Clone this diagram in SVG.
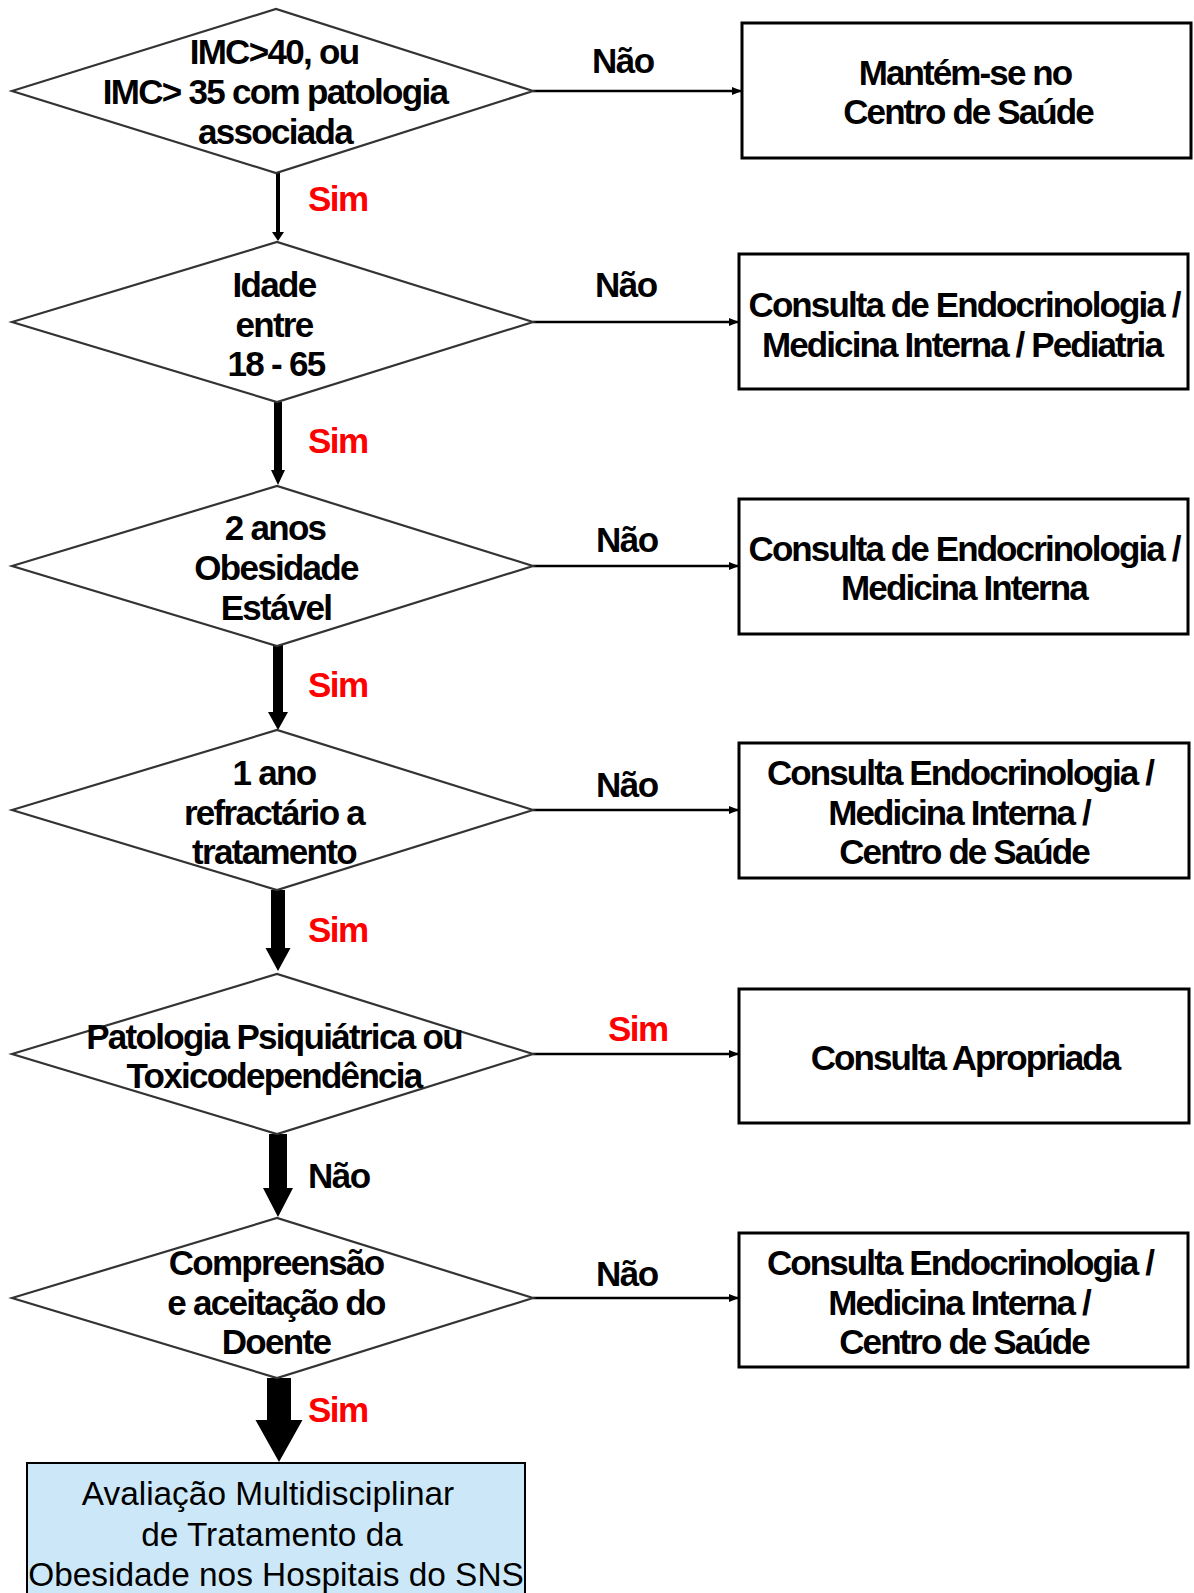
<svg xmlns="http://www.w3.org/2000/svg" width="1194" height="1593" viewBox="0 0 1194 1593">
<defs>
<style>
.dia{fill:#fff;stroke:#333;stroke-width:2.2}
.box{fill:#fff;stroke:#000;stroke-width:3}
.t{font-family:"Liberation Sans",Arial,sans-serif;font-weight:bold;font-size:35px;letter-spacing:-1.7px;fill:#000;text-anchor:middle}
.bt{letter-spacing:-1.9px}
.lbl{font-family:"Liberation Sans",Arial,sans-serif;font-weight:bold;font-size:35px;letter-spacing:-1.5px}
.no{fill:#000}
.yes{fill:#ff0000}
.h{stroke:#000;stroke-width:2.5;fill:none;marker-end:url(#ah)}
.v{fill:#000}
.fin{fill:#cce8f8;stroke:#000;stroke-width:2}
.ft{font-family:"Liberation Sans",Arial,sans-serif;font-size:33.4px;fill:#000;text-anchor:middle}
</style>
<marker id="ah" markerWidth="10" markerHeight="8" refX="10" refY="4" orient="auto" markerUnits="userSpaceOnUse">
<path d="M0,0 L10,4 L0,8 z" fill="#000"/>
</marker>
</defs>
<rect width="1194" height="1593" fill="#fff"/>

<g id="connectors">
<line class="h" x1="533" y1="91" x2="742" y2="91"/>
<line class="h" x1="533" y1="322" x2="739" y2="322"/>
<line class="h" x1="533" y1="566" x2="739" y2="566"/>
<line class="h" x1="533" y1="810" x2="739" y2="810"/>
<line class="h" x1="533" y1="1054" x2="739" y2="1054"/>
<line class="h" x1="533" y1="1298" x2="739" y2="1298"/>
<polygon class="v" points="276,172 280,172 280,232 284,232 278,241 272,232 276,232"/>
<polygon class="v" points="274,402 282,402 282,470 285,470 278,485 271,470 274,470"/>
<polygon class="v" points="273,645 283,645 283,712 288,712 278,730 268,712 273,712"/>
<polygon class="v" points="271,890 285,890 285,948 290.5,948 278,971 265.5,948 271,948"/>
<polygon class="v" points="269,1134 287,1134 287,1188 293,1188 278,1217 263,1188 269,1188"/>
<polygon class="v" points="267,1378 291,1378 291,1420 302.5,1420 279,1462 255.5,1420 267,1420"/>
<text class="lbl yes" x="308" y="211">Sim</text>
<text class="lbl yes" x="308" y="453">Sim</text>
<text class="lbl yes" x="308" y="697">Sim</text>
<text class="lbl yes" x="308" y="942">Sim</text>
<text class="lbl no" x="308" y="1188">Não</text>
<text class="lbl yes" x="308" y="1422">Sim</text>
<text class="lbl no" x="592" y="73">Não</text>
<text class="lbl no" x="595" y="297">Não</text>
<text class="lbl no" x="596" y="552">Não</text>
<text class="lbl no" x="596" y="797">Não</text>
<text class="lbl yes" x="608" y="1041">Sim</text>
<text class="lbl no" x="596" y="1286">Não</text>
</g>

<g id="d1">
<polygon class="dia" points="12,91 276,9 533,91 276,173"/>
<text class="t" x="274" y="64">IMC&gt;40, ou</text>
<text class="t" x="275" y="104">IMC&gt; 35 com patologia</text>
<text class="t" x="275" y="144">associada</text>
</g>
<g id="d2">
<polygon class="dia" points="12,322 277,242 533,322 277,402"/>
<text class="t" x="274" y="297">Idade</text>
<text class="t" x="274" y="337">entre</text>
<text class="t" x="276" y="376">18 - 65</text>
</g>
<g id="d3">
<polygon class="dia" points="12,566 277,486 533,566 277,646"/>
<text class="t" x="275" y="540">2 anos</text>
<text class="t" x="276" y="580">Obesidade</text>
<text class="t" x="276" y="620">Estável</text>
</g>
<g id="d4">
<polygon class="dia" points="12,810 277,730 533,810 277,890"/>
<text class="t" x="274" y="785">1 ano</text>
<text class="t" x="274" y="825">refractário a</text>
<text class="t" x="274" y="864">tratamento</text>
</g>
<g id="d5">
<polygon class="dia" points="12,1054 277,974 533,1054 277,1134"/>
<text class="t" x="274" y="1049">Patologia Psiquiátrica ou</text>
<text class="t" x="274" y="1088">Toxicodependência</text>
</g>
<g id="d6">
<polygon class="dia" points="12,1298 277,1218 533,1298 277,1378"/>
<text class="t" x="276" y="1275">Compreensão</text>
<text class="t" x="276" y="1315">e aceitação do</text>
<text class="t" x="276" y="1354">Doente</text>
</g>

<g id="b1">
<rect class="box" x="742" y="23" width="449" height="135"/>
<text class="t bt" x="965" y="85">Mantém-se no</text>
<text class="t bt" x="968" y="124">Centro de Saúde</text>
</g>
<g id="b2">
<rect class="box" x="739" y="254" width="449" height="135"/>
<text class="t bt" x="964" y="317">Consulta de Endocrinologia /</text>
<text class="t bt" x="962" y="357">Medicina Interna / Pediatria</text>
</g>
<g id="b3">
<rect class="box" x="739" y="499" width="449" height="135"/>
<text class="t bt" x="964" y="561">Consulta de Endocrinologia /</text>
<text class="t bt" x="964" y="600">Medicina Interna</text>
</g>
<g id="b4">
<rect class="box" x="739" y="743" width="450" height="135"/>
<text class="t bt" x="960" y="785">Consulta Endocrinologia /</text>
<text class="t bt" x="959" y="825">Medicina Interna /</text>
<text class="t bt" x="964" y="864">Centro de Saúde</text>
</g>
<g id="b5">
<rect class="box" x="739" y="989" width="450" height="134"/>
<text class="t bt" x="965" y="1070">Consulta Apropriada</text>
</g>
<g id="b6">
<rect class="box" x="739" y="1233" width="449" height="134"/>
<text class="t bt" x="960" y="1275">Consulta Endocrinologia /</text>
<text class="t bt" x="959" y="1315">Medicina Interna /</text>
<text class="t bt" x="964" y="1354">Centro de Saúde</text>
</g>
<g id="final">
<rect class="fin" x="27" y="1463" width="498" height="140"/>
<text class="ft" x="268" y="1505">Avaliação Multidisciplinar</text>
<text class="ft" x="272" y="1546">de Tratamento da</text>
<text class="ft" x="276" y="1586">Obesidade nos Hospitais do SNS</text>
</g>
</svg>
